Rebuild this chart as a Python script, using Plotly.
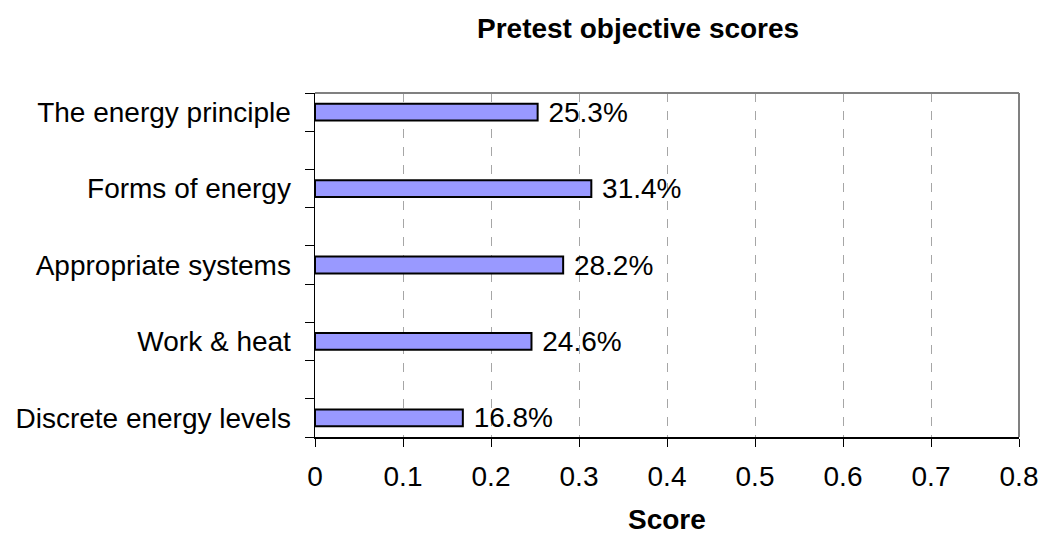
import plotly.graph_objects as go

categories = ["The energy principle", "Forms of energy", "Appropriate systems",
              "Work & heat", "Discrete energy levels"]
scores = [0.253, 0.314, 0.282, 0.246, 0.168]
x_ticks = [0, 0.1, 0.2, 0.3, 0.4, 0.5, 0.6, 0.7, 0.8]
x_tick_labels = ["0", "0.1", "0.2", "0.3", "0.4", "0.5", "0.6", "0.7", "0.8"]

# Excel-style layout: every category occupies two slots (label row + blank row)
positions = [2 * i for i in range(len(categories))]
n_slots = 2 * len(categories) - 1
boundaries = [k - 0.5 for k in range(n_slots + 1)]

FONT = "Liberation Sans, Arial, sans-serif"
FS = 28

fig = go.Figure()
fig.add_trace(go.Bar(
    x=scores, y=positions, orientation="h", width=0.44,
    marker=dict(color="#9999FF", line=dict(color="black", width=2)),
    text=[f" {v:.1%}" for v in scores], textposition="outside",
    constraintext="none",
    textfont=dict(family=FONT, size=FS, color="black"),
    cliponaxis=False, hoverinfo="skip",
))

fig.update_layout(
    width=1042, height=538,
    margin=dict(l=315, r=23, t=93, b=101, autoexpand=False),
    plot_bgcolor="white", paper_bgcolor="white",
    font=dict(family=FONT, size=FS, color="black"),
    showlegend=False,
    annotations=[
        dict(text="<b>Pretest objective scores</b>", x=0.4588, y=1, xref="paper",
             yref="paper", yanchor="middle", xanchor="center", showarrow=False,
             yshift=65, font=dict(size=FS)),
        dict(text="<b>Score</b>", x=0.5, xref="paper", yref="paper", y=0,
             yshift=-82, yanchor="middle", xanchor="center", showarrow=False,
             font=dict(size=FS)),
    ],
)

fig.update_xaxes(
    range=[0, 0.8], tickvals=x_ticks, ticktext=x_tick_labels,
    showline=True, linecolor="black", linewidth=1.5,
    ticks="outside", ticklen=8, tickcolor="black", tickwidth=1,
    showgrid=True, gridcolor="#A6A6A6", griddash="dash", gridwidth=1,
    zeroline=False, ticklabelstandoff=6, automargin=False,
)
fig.update_yaxes(
    range=[n_slots - 0.5, -0.5], tickvals=positions, ticktext=categories,
    showline=True, linecolor="black", linewidth=1.5,
    ticks="", showgrid=False, zeroline=False, ticklabelstandoff=17,
    automargin=False,
    minor=dict(tickvals=boundaries, ticks="outside", ticklen=9,
               tickcolor="black", tickwidth=1, showgrid=False),
)

# grey frame on the top and right edges of the plot area
fig.add_shape(type="line", xref="paper", yref="paper", x0=0, x1=1, y0=1, y1=1,
              line=dict(color="#808080", width=2))
fig.add_shape(type="line", xref="paper", yref="paper", x0=1, x1=1, y0=0, y1=1,
              line=dict(color="#808080", width=2))

fig.write_html(
    "out.html",
    config={"displayModeBar": False, "staticPlot": True},
    post_script="document.body.style.margin='0';document.body.style.overflow='hidden';",
)
